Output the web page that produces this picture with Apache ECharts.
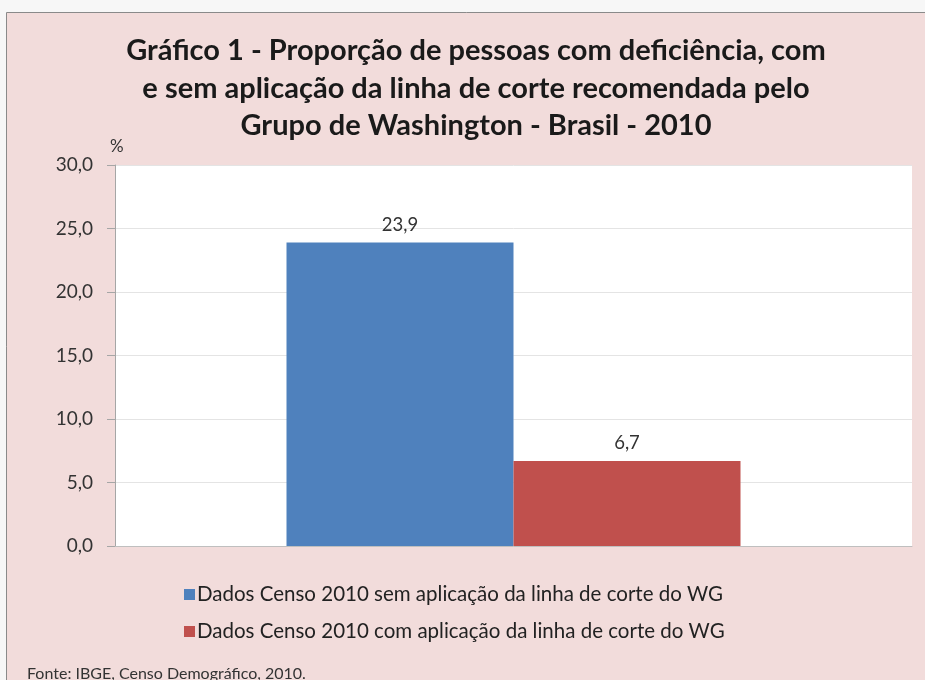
<!DOCTYPE html>
<html><head><meta charset="utf-8">
<script src="https://cdn.jsdelivr.net/npm/echarts@6/dist/echarts.min.js"></script>
<style>html,body{margin:0;padding:0;background:#f7f7f7;}#c{width:925px;height:680px;}</style>
</head><body><div id="c"></div>
<script>
var categories = ['Brasil 2010'];
var seriesNames = ['Dados Censo 2010 sem aplicação da linha de corte do WG', 'Dados Censo 2010 com aplicação da linha de corte do WG'];
var semCorte = [23.9];
var comCorte = [6.7];
var yTicks = [0, 5, 10, 15, 20, 25, 30];
var colors = ['#4f81bd', '#c0504d'];
var fmt = function (v) { return Number(v).toFixed(1).replace('.', ','); };
var font = 'Lato, "Open Sans", sans-serif';
var chart = echarts.init(document.getElementById('c'));
chart.setOption({
  backgroundColor: 'transparent',
  animation: false,
  title: {
    text: 'Gráfico 1 - Proporção de pessoas com deficiência, com\ne sem aplicação da linha de corte recomendada pelo\nGrupo de Washington - Brasil - 2010',
    left: 471, top: 27, textAlign: 'center',
    textStyle: { fontFamily: font, fontWeight: 'bold', fontSize: 29, lineHeight: 37.5, color: '#1a1a1a' }
  },
  graphic: [
    { type: 'rect', z: -10, shape: { x: 6.5, y: 12.5, width: 940, height: 700 }, style: { fill: '#f2dcdb', stroke: '#8a8a8a', lineWidth: 1 } },
    { type: 'text', left: 110, top: 138, style: { text: '%', fontFamily: font, fontSize: 17, fill: '#333' } },
    { type: 'text', left: 27, top: 666, style: { text: 'Fonte: IBGE, Censo Demográfico, 2010.', fontFamily: font, fontSize: 16, fill: '#333' } }
  ],
  legend: {
    orient: 'vertical', left: 179, top: 579, itemWidth: 11, itemHeight: 11, itemGap: 16,
    icon: 'rect',
    textStyle: { fontFamily: font, fontSize: 20.5, color: '#222', padding: [0, 0, 0, -3] },
    data: seriesNames
  },
  grid: { left: 115, right: 13, top: 165, bottom: 134, show: true, backgroundColor: '#ffffff', borderWidth: 0 },
  xAxis: {
    type: 'category', data: categories,
    axisLine: { show: true, lineStyle: { color: '#bfbfbf' } },
    axisTick: { show: false }, axisLabel: { show: false }
  },
  yAxis: {
    type: 'value', min: 0, max: 30, interval: 5,
    axisLine: { show: true, lineStyle: { color: '#a6a6a6' } },
    axisTick: { show: true, length: 8, lineStyle: { color: '#a6a6a6' } },
    axisLabel: { fontFamily: font, fontSize: 19, color: '#333', margin: 22, formatter: function (v) { return yTicks.indexOf(v) >= 0 ? fmt(v) : ''; } },
    splitLine: { lineStyle: { color: '#e4e4e4' } }
  },
  series: [
    { name: seriesNames[0], type: 'bar', data: semCorte, barWidth: 227, barGap: '0%', itemStyle: { color: colors[0] },
      label: { show: true, position: 'top', distance: 8, fontFamily: font, fontSize: 18.5, color: '#333', formatter: function (p) { return fmt(p.value); } } },
    { name: seriesNames[1], type: 'bar', data: comCorte, barWidth: 227, barGap: '0%', itemStyle: { color: colors[1] },
      label: { show: true, position: 'top', distance: 8, fontFamily: font, fontSize: 18.5, color: '#333', formatter: function (p) { return fmt(p.value); } } }
  ]
});
</script></body></html>
